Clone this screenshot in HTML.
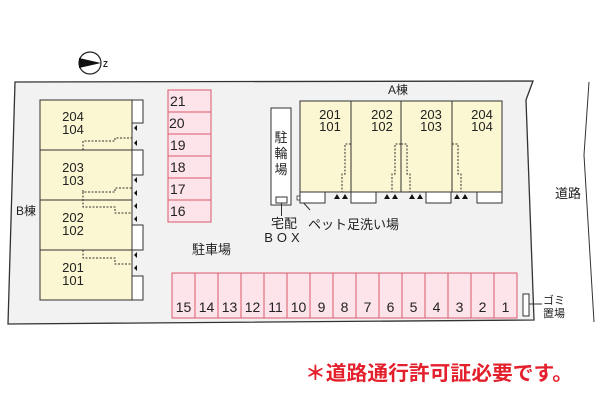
<!DOCTYPE html>
<html><head><meta charset="utf-8"><style>
html,body{margin:0;padding:0;background:#fff;width:600px;height:400px;overflow:hidden}
svg{display:block}
text{font-family:"Liberation Sans","Noto Sans CJK JP",sans-serif;fill:#222}
</style></head><body>
<svg width="600" height="400" viewBox="0 0 600 400" xmlns="http://www.w3.org/2000/svg">
<polygon points="15,82 533,81 526,100 534,320 8,324" fill="#f2f2f2" stroke="#333" stroke-width="1.3"/>
<polyline points="589,82 584,155 594,322" fill="none" stroke="#333" stroke-width="1"/>
<text x="555" y="198" font-size="13">道路</text>
<circle cx="90" cy="63" r="11" fill="#fff" stroke="#222" stroke-width="1.2"/>
<polygon points="79,58 101,63 79,68" fill="#111"/>
<text x="103" y="67" font-size="8" font-weight="bold">Z</text>
<rect x="40" y="100" width="92" height="200" fill="#fbf7d2" stroke="#333" stroke-width="1"/>
<line x1="40" y1="150" x2="132" y2="150" stroke="#333"/>
<line x1="40" y1="200" x2="132" y2="200" stroke="#333"/>
<line x1="40" y1="250" x2="132" y2="250" stroke="#333"/>
<g fill="#fff" stroke="#333" stroke-width="1">
<rect x="132" y="100" width="11" height="23"/>
<rect x="132" y="150" width="11" height="25"/>
<rect x="132" y="225" width="11" height="25"/>
<rect x="132" y="276" width="11" height="24"/>
</g>
<g font-size="13" text-anchor="middle">
<text x="73" y="121">204</text><text x="73" y="134">104</text>
<text x="73" y="172">203</text><text x="73" y="185">103</text>
<text x="73" y="222">202</text><text x="73" y="235">102</text>
<text x="73" y="272">201</text><text x="73" y="285">101</text>
</g>
<text x="16" y="215" font-size="12">B棟</text>
<g fill="none" stroke="#333" stroke-dasharray="2,1.5" stroke-width="1">
<polyline points="83,150 83,141 115,141 115,138 132,138"/>
<polyline points="83,190 83,192 115,192 115,188 132,188"/>
<polyline points="83,192 83,207 115,207 115,213 132,213"/>
<polyline points="83,250 83,258 115,258 115,264 132,264"/>
</g>
<g fill="#111">
<polygon points="134,128 137,125 137,131"/>
<polygon points="134,143 137,140 137,146"/>
<polygon points="134,180 137,177 137,183"/>
<polygon points="134,193 137,190 137,196"/>
<polygon points="134,206 137,203 137,209"/>
<polygon points="134,219 137,216 137,222"/>
<polygon points="134,255 137,252 137,258"/>
<polygon points="134,268 137,265 137,271"/>
</g>
<g fill="#fde3ea" stroke="#dc5a6c" stroke-width="1">
<rect x="168" y="90" width="43" height="22"/>
<rect x="168" y="112" width="43" height="22"/>
<rect x="168" y="134" width="43" height="22"/>
<rect x="168" y="156" width="43" height="22"/>
<rect x="168" y="178" width="43" height="22"/>
<rect x="168" y="200" width="43" height="22"/>
</g>
<g font-size="14">
<text x="170" y="106">21</text><text x="169" y="128">20</text><text x="170" y="150">19</text>
<text x="170" y="172">18</text><text x="170" y="194">17</text><text x="170" y="216">16</text>
</g>
<text x="192" y="254" font-size="13">駐車場</text>
<rect x="172" y="273" width="345" height="45" fill="#fde3ea" stroke="#dc5a6c" stroke-width="1"/>
<g stroke="#dc5a6c" stroke-width="1">
<line x1="195" y1="273" x2="195" y2="318"/><line x1="218" y1="273" x2="218" y2="318"/>
<line x1="241" y1="273" x2="241" y2="318"/><line x1="264" y1="273" x2="264" y2="318"/>
<line x1="287" y1="273" x2="287" y2="318"/><line x1="310" y1="273" x2="310" y2="318"/>
<line x1="333" y1="273" x2="333" y2="318"/><line x1="356" y1="273" x2="356" y2="318"/>
<line x1="379" y1="273" x2="379" y2="318"/><line x1="402" y1="273" x2="402" y2="318"/>
<line x1="425" y1="273" x2="425" y2="318"/><line x1="448" y1="273" x2="448" y2="318"/>
<line x1="471" y1="273" x2="471" y2="318"/><line x1="494" y1="273" x2="494" y2="318"/>
</g>
<g font-size="14" text-anchor="middle">
<text x="183.5" y="312">15</text><text x="206.5" y="312">14</text><text x="229.5" y="312">13</text>
<text x="252.5" y="312">12</text><text x="275.5" y="312">11</text><text x="298.5" y="312">10</text>
<text x="321.5" y="312">9</text><text x="344.5" y="312">8</text><text x="367.5" y="312">7</text>
<text x="390.5" y="312">6</text><text x="413.5" y="312">5</text><text x="436.5" y="312">4</text>
<text x="459.5" y="312">3</text><text x="482.5" y="312">2</text><text x="505.5" y="312">1</text>
</g>
<rect x="523" y="294" width="6" height="22" fill="#fff" stroke="#333"/>
<line x1="529" y1="304" x2="542" y2="304" stroke="#333"/>
<text x="543" y="304" font-size="11">ゴミ</text>
<text x="543" y="317" font-size="11">置場</text>
<rect x="271" y="108" width="20" height="97" fill="#fff" stroke="#333"/>
<text x="281" y="142" font-size="13" text-anchor="middle">駐</text>
<text x="281" y="158" font-size="13" text-anchor="middle">輪</text>
<text x="281" y="174" font-size="13" text-anchor="middle">場</text>
<rect x="276" y="197" width="11" height="6" fill="#fff" stroke="#333"/>
<line x1="281.5" y1="203" x2="281.5" y2="216" stroke="#333"/>
<text x="284" y="228" font-size="13" text-anchor="middle">宅配</text>
<text x="284" y="242" font-size="13" text-anchor="middle" letter-spacing="4">BOX</text>
<rect x="297" y="196" width="4" height="4" fill="#fff" stroke="#333" stroke-width="0.8"/>
<line x1="301" y1="200" x2="310" y2="210" stroke="#333"/>
<text x="308" y="229" font-size="13">ペット足洗い場</text>
<text x="388" y="94" font-size="12">A棟</text>
<rect x="300" y="101" width="202" height="91" fill="#fbf7d2" stroke="#333"/>
<line x1="351" y1="101" x2="351" y2="192" stroke="#333"/>
<line x1="401" y1="101" x2="401" y2="192" stroke="#333"/>
<line x1="452" y1="101" x2="452" y2="192" stroke="#333"/>
<g fill="#fff" stroke="#333">
<rect x="300" y="192" width="25" height="11"/>
<rect x="351" y="192" width="25" height="11"/>
<rect x="426" y="192" width="25" height="11"/>
<rect x="477" y="192" width="25" height="11"/>
</g>
<g font-size="13" text-anchor="middle">
<text x="330" y="119">201</text><text x="330" y="131">101</text>
<text x="382" y="119">202</text><text x="382" y="131">102</text>
<text x="431" y="119">203</text><text x="431" y="131">103</text>
<text x="482" y="119">204</text><text x="482" y="131">104</text>
</g>
<g fill="none" stroke="#333" stroke-dasharray="2,1.5">
<polyline points="351,144 345,144 345,174 342,174 342,192"/>
<polyline points="401,144 395,144 395,174 392,174 392,192"/>
<polyline points="401,144 407,144 407,174 410,174 410,192"/>
<polyline points="452,144 458,144 458,174 461,174 461,192"/>
</g>
<g fill="#111">
<polygon points="337,194 334,199 340,199"/><polygon points="345,194 342,199 348,199"/>
<polygon points="387,194 384,199 390,199"/><polygon points="395,194 392,199 398,199"/>
<polygon points="412,194 409,199 415,199"/><polygon points="420,194 417,199 423,199"/>
<polygon points="457,194 454,199 460,199"/><polygon points="465,194 462,199 468,199"/>
</g>
<text x="305" y="380" font-size="20" font-weight="bold" textLength="268" lengthAdjust="spacingAndGlyphs" style="fill:#e3202c">＊道路通行許可証必要です。</text>
</svg>
</body></html>
